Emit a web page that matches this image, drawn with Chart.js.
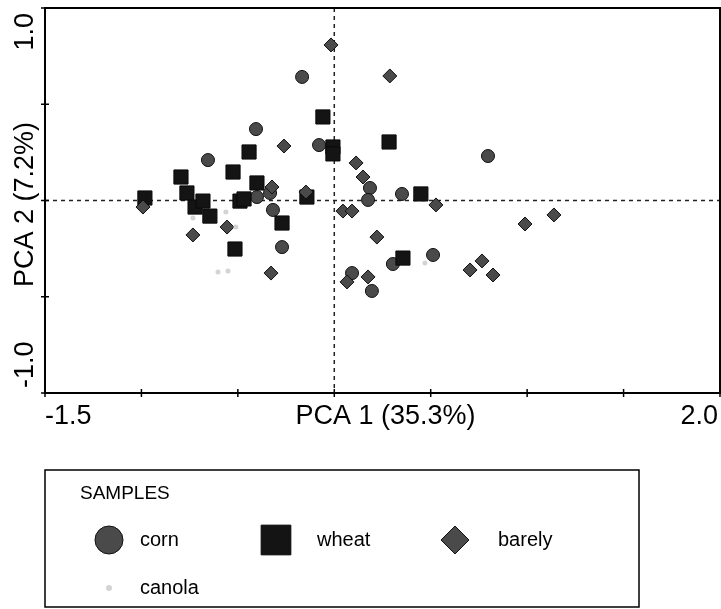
<!DOCTYPE html>
<html>
<head>
<meta charset="utf-8">
<script src="https://cdn.jsdelivr.net/npm/chart.js@4.4.0/dist/chart.umd.min.js"></script>
<style>
  html, body { margin: 0; padding: 0; background: #fff; }
  #wrap { width: 721px; height: 609px; }
</style>
</head>
<body>
<div id="wrap"><canvas id="pca" width="721" height="609"></canvas></div>
<script>
// PCA scores, [PCA1, PCA2]
var corn = [
  [-0.167, 0.642], [-0.406, 0.371], [-0.655, 0.210], [-0.079, 0.288],
  [0.797, 0.231], [0.351, 0.034], [0.185, 0.065], [0.175, 0.003],
  [-0.401, 0.018], [-0.333, 0.039], [-0.318, -0.049], [-0.271, -0.242],
  [0.092, -0.377], [0.195, -0.470], [0.304, -0.330], [0.512, -0.283]
];
var wheat = [
  [-0.982, 0.013], [-0.795, 0.122], [-0.764, 0.039], [-0.722, -0.034],
  [-0.681, -0.003], [-0.645, -0.081], [-0.525, 0.148], [-0.489, -0.003],
  [-0.468, 0.008], [-0.442, 0.252], [-0.401, 0.091], [-0.271, -0.117],
  [-0.515, -0.252], [-0.142, 0.018], [-0.059, 0.434], [-0.007, 0.278],
  [-0.007, 0.242], [0.284, 0.304], [0.449, 0.034], [0.356, -0.299]
];
var barely = [
  [-0.017, 0.808], [0.288, 0.647], [-0.261, 0.283], [0.113, 0.195],
  [0.149, 0.122], [-0.323, 0.070], [-0.147, 0.044], [-0.992, -0.034],
  [-0.733, -0.179], [-0.556, -0.138], [-0.328, -0.377], [0.045, -0.055],
  [0.092, -0.055], [0.221, -0.190], [0.066, -0.423], [0.175, -0.397],
  [0.527, -0.023], [0.989, -0.122], [1.139, -0.075], [0.704, -0.361],
  [0.766, -0.314], [0.823, -0.387]
];
var canola = [
  [-0.733, -0.091], [-0.562, -0.060], [-0.510, -0.138],
  [-0.603, -0.371], [-0.551, -0.366], [0.470, -0.325]
];

var xRange = [-1.5, 2.0];
var yRange = [-1.0, 1.0];
var xTickLabels = ['-1.5', '2.0'];
var yTickLabels = ['1.0', '-1.0'];
var xTitle = 'PCA 1 (35.3%)';
var yTitle = 'PCA 2 (7.2%)';
var legendTitle = 'SAMPLES';

var FONT = "'Liberation Sans', Arial, sans-serif";

function toXY(arr) {
  return arr.map(function (p) { return {x: p[0], y: p[1]}; });
}

var datasets = [
  {label: 'corn', data: toXY(corn), pointStyle: 'circle', pointRadius: 6.5,
   backgroundColor: '#4a4a4a', borderColor: '#111', borderWidth: 1, order: 3},
  {label: 'wheat', data: toXY(wheat), pointStyle: 'rect', pointRadius: 10,
   backgroundColor: '#141414', borderColor: '#0a0a0a', borderWidth: 1, order: 2},
  {label: 'barely', data: toXY(barely), pointStyle: 'rectRot', pointRadius: 7,
   backgroundColor: '#4a4a4a', borderColor: '#111', borderWidth: 1, order: 1},
  {label: 'canola', data: toXY(canola), pointStyle: 'circle', pointRadius: 2.5,
   backgroundColor: '#d4d4d4', borderColor: '#d4d4d4', borderWidth: 0, order: 0}
];

// box, ticks, zero lines, axis text and the legend panel
var frame = {
  id: 'frame',
  beforeDatasetsDraw: function (chart) {
    var ctx = chart.ctx, a = chart.chartArea;
    var xs = chart.scales.x, ys = chart.scales.y;
    ctx.save();
    ctx.strokeStyle = '#222';
    ctx.lineWidth = 1.5;
    ctx.setLineDash([4, 4]);
    var x0 = xs.getPixelForValue(0), y0 = ys.getPixelForValue(0);
    ctx.beginPath();
    ctx.moveTo(x0, a.top); ctx.lineTo(x0, a.bottom);
    ctx.moveTo(a.left, y0); ctx.lineTo(a.right, y0);
    ctx.stroke();
    ctx.restore();
  },
  afterDraw: function (chart) {
    var ctx = chart.ctx, a = chart.chartArea;
    var xs = chart.scales.x, ys = chart.scales.y;
    ctx.save();
    ctx.strokeStyle = '#000';
    ctx.lineWidth = 2;
    ctx.strokeRect(a.left, a.top, a.right - a.left, a.bottom - a.top);

    ctx.lineWidth = 1.5;
    ctx.beginPath();
    for (var v = xRange[0]; v <= xRange[1] + 1e-9; v += 0.5) {
      var px = xs.getPixelForValue(v);
      ctx.moveTo(px, a.bottom - 4); ctx.lineTo(px, a.bottom + 4);
    }
    for (var w = yRange[0]; w <= yRange[1] + 1e-9; w += 0.5) {
      var py = ys.getPixelForValue(w);
      ctx.moveTo(a.left - 4, py); ctx.lineTo(a.left + 4, py);
    }
    ctx.stroke();

    ctx.fillStyle = '#000';
    ctx.font = '27px ' + FONT;
    ctx.textBaseline = 'alphabetic';
    ctx.textAlign = 'left';
    ctx.fillText(xTickLabels[0], xs.getPixelForValue(xRange[0]), 424);
    ctx.textAlign = 'right';
    ctx.fillText(xTickLabels[1], xs.getPixelForValue(xRange[1]) - 2, 424);
    ctx.textAlign = 'center';
    ctx.fillText(xTitle, (a.left + a.right) / 2 + 3, 424);

    ctx.save();
    ctx.translate(33, 0);
    ctx.rotate(-Math.PI / 2);
    ctx.textAlign = 'right';
    ctx.fillText(yTickLabels[0], -(ys.getPixelForValue(yRange[1]) + 5), 0);
    ctx.textAlign = 'left';
    ctx.fillText(yTickLabels[1], -(ys.getPixelForValue(yRange[0]) - 5), 0);
    ctx.textAlign = 'center';
    ctx.fillText(yTitle, -((a.top + a.bottom) / 2 + 4), 0);
    ctx.restore();

    // legend panel
    ctx.lineWidth = 1.5;
    ctx.strokeRect(45, 470, 594, 137);
    ctx.textBaseline = 'middle';
    ctx.font = '19px ' + FONT;
    ctx.textAlign = 'left';
    ctx.fillText(legendTitle, 80, 494);
    var spots = [[109, 540], [276, 540], [455, 540], [109, 588]];
    var big = [14, 21, 14, 3];
    chart.data.datasets.forEach(function (ds, i) {
      ctx.fillStyle = ds.backgroundColor;
      ctx.strokeStyle = ds.borderColor;
      ctx.lineWidth = ds.borderWidth;
      Chart.helpers.drawPoint(ctx, {pointStyle: ds.pointStyle, radius: big[i], rotation: 0, borderWidth: ds.borderWidth},
        spots[i][0], spots[i][1]);
      ctx.fillStyle = '#000';
      ctx.font = '20px ' + FONT;
      ctx.fillText(ds.label, spots[i][0] + 31 + (i === 1 ? 10 : 0) + (i === 2 ? 12 : 0), spots[i][1]);
    });
    ctx.restore();
  }
};

new Chart(document.getElementById('pca'), {
  type: 'scatter',
  data: {datasets: datasets},
  options: {
    responsive: false,
    animation: false,
    layout: {autoPadding: false, padding: {left: 45, top: 8, right: 1, bottom: 216}},
    plugins: {legend: {display: false}, tooltip: {enabled: false}},
    scales: {
      x: {display: false, min: xRange[0], max: xRange[1]},
      y: {display: false, min: yRange[0], max: yRange[1]}
    }
  },
  plugins: [frame]
});
</script>
</body>
</html>
